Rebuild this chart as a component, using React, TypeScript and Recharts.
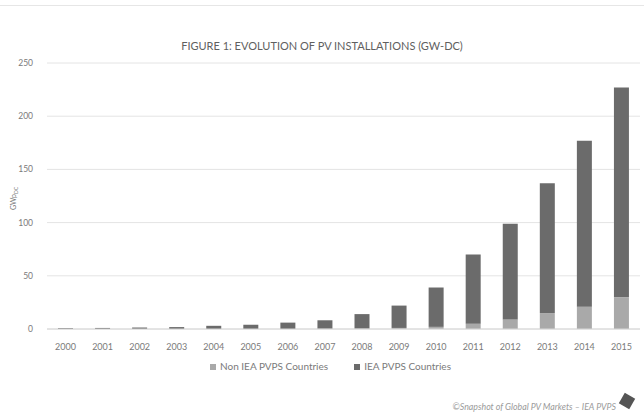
import React from "react";
import { BarChart, Bar, XAxis, YAxis, CartesianGrid, Legend } from "recharts";

const years = ["2000", "2001", "2002", "2003", "2004", "2005", "2006", "2007", "2008", "2009", "2010", "2011", "2012", "2013", "2014", "2015"];
const nonIea = [0, 0, 0, 0, 0, 0, 0, 0.2, 0.4, 1, 2, 5, 9, 15, 21, 30];
const iea = [0.8, 1, 1.4, 1.8, 3, 4, 6, 8, 13.6, 21, 37, 65, 90, 122, 156, 197];
const yTicks = [0, 50, 100, 150, 200, 250];

const data = years.map((year, i) => ({ year, nonIea: nonIea[i], iea: iea[i] }));

const FONT = "Lato, 'Open Sans', sans-serif";
const TEXT = "#7a7a7a";

export default function App() {
  return (
    <div
      style={{
        position: "absolute",
        left: 0,
        top: 0,
        width: 644,
        height: 414,
        background: "#fff",
        fontFamily: FONT,
        overflow: "hidden",
      }}
    >
      <div style={{ position: "absolute", left: 0, top: 5, width: 644, height: 1, background: "#e6e6e6" }} />
      <div
        style={{
          position: "absolute",
          left: 0,
          top: 39,
          width: 644,
          textAlign: "center",
          fontSize: 11,
          color: "#5f5f5f",
        }}
      >
        FIGURE 1: EVOLUTION OF PV INSTALLATIONS (GW-DC)
      </div>
      <div
        style={{
          position: "absolute",
          left: 9,
          top: 210,
          fontSize: 7,
          color: TEXT,
          transform: "rotate(-90deg)",
          transformOrigin: "left top",
          whiteSpace: "nowrap",
        }}
      >
        GWp<sub style={{ fontSize: 5 }}>DC</sub>
      </div>
      <BarChart
        width={644}
        height={414}
        data={data}
        margin={{ top: 63, right: 4, left: 17, bottom: 53 }}
        barSize={15}
      >
        <CartesianGrid vertical={false} stroke="#e4e4e4" />
        <XAxis
          dataKey="year"
          tick={{ fill: TEXT, fontSize: 9, fontFamily: FONT }}
          axisLine={{ stroke: "#d6d6d6" }}
          tickLine={false}
          tickMargin={9}
          height={20}
        />
        <YAxis
          domain={[0, 250]}
          ticks={yTicks}
          width={30}
          tick={{ fill: TEXT, fontSize: 8.5, fontFamily: FONT }}
          axisLine={false}
          tickLine={false}
          tickMargin={8}
        />
        <Legend
          verticalAlign="bottom"
          iconType="square"
          iconSize={6}
          itemSorter={(item: any) => (item.dataKey === "nonIea" ? 0 : 1)}
          wrapperStyle={{ top: 360, bottom: "auto", paddingLeft: 15, fontSize: 10, fontFamily: FONT, color: TEXT }}
          formatter={(value) => <span style={{ color: TEXT, marginRight: 16 }}>{value}</span>}
        />
        <Bar dataKey="nonIea" name="Non IEA PVPS Countries" stackId="a" fill="#a9a9a9" isAnimationActive={false} />
        <Bar dataKey="iea" name="IEA PVPS Countries" stackId="a" fill="#6b6b6b" isAnimationActive={false} />
      </BarChart>
      <div
        style={{
          position: "absolute",
          left: 380,
          top: 401,
          width: 236,
          textAlign: "right",
          fontSize: 8.8,
          fontStyle: "italic",
          color: "#9a9a9a",
        }}
      >
        ©Snapshot of Global PV Markets – IEA PVPS
      </div>
      <div
        style={{
          position: "absolute",
          left: 621,
          top: 395,
          width: 12,
          height: 12,
          background: "#555",
          transform: "rotate(30deg)",
        }}
      />
    </div>
  );
}
